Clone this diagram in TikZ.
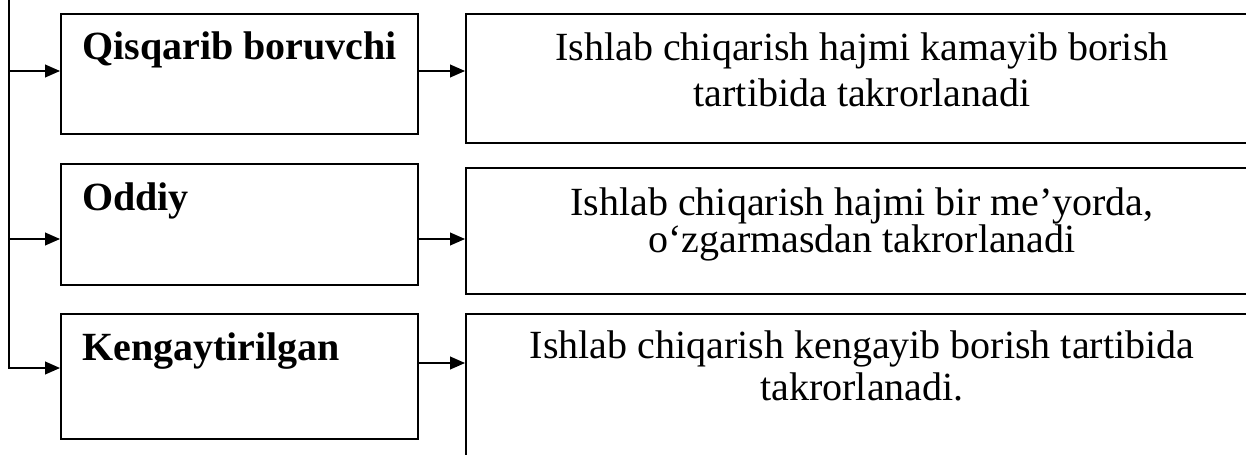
\documentclass[tikz,border=0pt]{standalone}
\usepackage{fontspec}
\setmainfont{Liberation Serif}
\usetikzlibrary{positioning, arrows.meta}

\begin{document}
\begin{tikzpicture}[
                kind/.style={draw, line width=1.2pt, minimum width=8.925cm, inner sep=0pt, anchor=north west},
                note/.style={draw, line width=1.2pt, minimum width=20cm, inner sep=0pt, anchor=north west},
                kindtext/.style={anchor=base west, inner sep=0pt, font=\fontsize{28.45}{33}\selectfont\bfseries},
                notetext/.style={anchor=base, inner sep=0pt, align=center, font=\fontsize{28.45}{#1}\selectfont},
                conn/.style={-{Triangle[length=10.5pt,width=9pt]}, line width=1pt}
            ]
                \path[use as bounding box, clip] (0,0) rectangle (31.15,-11.375);
                
                % Kinds (left column)
                \node[kind, minimum height=3cm] (qisqa) at (1.5,-0.325) {};
                \node[kind, minimum height=3.025cm] (oddiy) at (1.5,-4.075) {};
                \node[kind, minimum height=3.125cm] (kenga) at (1.5,-7.825) {};
                \node[kindtext] (qisqat) at ([shift={(0.55,-1.175)}]qisqa.north west) {Qisqarib boruvchi};
                \node[kindtext] (oddiyt) at ([shift={(0.55,-1.175)}]oddiy.north west) {Oddiy};
                \node[kindtext] (kengat) at ([shift={(0.55,-1.175)}]kenga.north west) {Kengaytirilgan};
                
                % Descriptions (right column), base = last line
                \node[note, minimum height=3.225cm] (qisqad) at (11.625,-0.325) {};
                \node[note, minimum height=3.15cm] (oddiyd) at (11.625,-4.175) {};
                \node[note, minimum height=4cm] (kengad) at (11.625,-7.825) {};
                \node[notetext=32.7pt] (qisqadt) at ([shift={(9.925,-2.325)}]qisqad.north west) {Ishlab chiqarish hajmi kamayib borish\\tartibida takrorlanadi};
                \node[notetext=26.6pt] (oddiydt) at ([shift={(9.925,-2.14)}]oddiyd.north west) {Ishlab chiqarish hajmi bir me’yorda,\\o‘zgarmasdan takrorlanadi};
                \node[notetext=29.2pt] (kengadt) at ([shift={(9.925,-2.175)}]kengad.north west) {Ishlab chiqarish kengayib borish tartibida\\takrorlanadi.};
                
                % Rows of the arrows
                \coordinate (trunk) at (0.225,0);
                \coordinate (row1) at (0,-1.775);
                \coordinate (row2) at (0,-5.975);
                \coordinate (row3) at (0,-9.2);
                \coordinate (row3d) at (0,-9.075);
                
                % Connections
                \draw[conn] (trunk) |- (kenga.west |- row3);
                \foreach \k/\r in {qisqa/row1, oddiy/row2} {
                    \draw[conn] (trunk |- \r) -- (\k.west |- \r);
                }
                \foreach \k/\r in {qisqa/row1, oddiy/row2, kenga/row3d} {
                    \draw[conn] (\k.east |- \r) -- (\k d.west |- \r);
                }
            \end{tikzpicture}
\end{document}
